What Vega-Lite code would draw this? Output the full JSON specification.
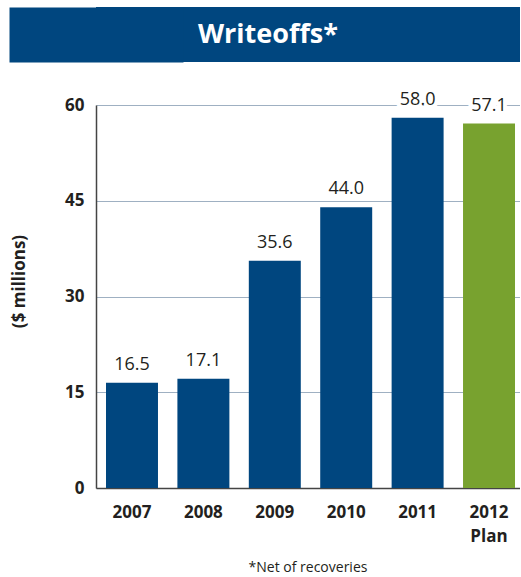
{
  "$schema": "https://vega.github.io/schema/vega-lite/v6.json",
  "padding": {"left": 10, "top": 7, "right": 0, "bottom": 4},
  "background": "white",
  "spacing": 28,
  "config": {
    "font": "Open Sans",
    "view": {"stroke": null}
  },
  "vconcat": [
    {
      "width": 424,
      "height": 55,
      "view": {"fill": "#00467f", "stroke": null},
      "data": {"values": [{"label": "Writeoffs*"}]},
      "mark": {"type": "text", "fontSize": 27, "fontWeight": "bold", "color": "white", "baseline": "middle", "align": "center", "dx": -40},
      "encoding": {
        "text": {"field": "label"},
        "y": {
          "field": "label", "type": "nominal",
          "axis": {"title": null, "labels": false, "ticks": false, "grid": false, "domain": true, "domainColor": "#00467f", "domainWidth": 174, "domainCap": "butt"}
        }
      }
    },
    {
      "width": 424,
      "height": 383,
      "title": {"text": "*Net of recoveries", "orient": "bottom", "fontSize": 14, "fontWeight": "normal", "color": "#231f20", "offset": 17},
      "data": {"values": [
        {"year": "2007", "value": 16.5, "kind": "Actual"},
        {"year": "2008", "value": 17.1, "kind": "Actual"},
        {"year": "2009", "value": 35.6, "kind": "Actual"},
        {"year": "2010", "value": 44.0, "kind": "Actual"},
        {"year": "2011", "value": 58.0, "kind": "Actual"},
        {"year": "2012", "value": 57.1, "kind": "Plan"}
      ]},
      "encoding": {
        "x": {
          "field": "year", "type": "ordinal", "sort": null,
          "scale": {"paddingInner": 0.272, "paddingOuter": 0.105, "align": 0.667},
          "axis": {
            "title": null, "labelAngle": 0, "ticks": false,
            "domainColor": "#444444", "domainWidth": 1.5,
            "labelFontSize": 17, "labelFontWeight": "bold", "labelColor": "#231f20",
            "labelPadding": 16, "labelLineHeight": 24, "labelBaseline": "top",
            "labelExpr": "datum.value == '2012' ? ['2012', 'Plan'] : datum.value"
          }
        },
        "y": {
          "field": "value", "type": "quantitative",
          "scale": {"domain": [0, 60], "nice": false},
          "axis": {
            "values": [0, 15, 30, 45, 60], "ticks": false,
            "grid": true, "gridColor": "#9fb0c2", "gridWidth": 1,
            "domainColor": "#444444", "domainWidth": 1.5,
            "labelFontSize": 17, "labelFontWeight": "bold", "labelColor": "#231f20", "labelPadding": 12,
            "title": "($ millions)", "titleFontSize": 17, "titleFontWeight": "bold", "titleColor": "#231f20",
            "titlePadding": 36, "titleY": 176
          }
        }
      },
      "layer": [
        {
          "mark": {"type": "bar"},
          "encoding": {
            "color": {"field": "kind", "type": "nominal", "scale": {"domain": ["Actual", "Plan"], "range": ["#00467f", "#78a22f"]}, "legend": null}
          }
        },
        {
          "mark": {"type": "text", "baseline": "alphabetic", "dy": -13, "fontSize": 18, "stroke": "white", "strokeWidth": 8, "fill": "white"},
          "encoding": {"text": {"field": "value", "type": "quantitative", "format": ".1f"}}
        },
        {
          "mark": {"type": "text", "baseline": "alphabetic", "dy": -13, "fontSize": 18, "color": "#231f20"},
          "encoding": {"text": {"field": "value", "type": "quantitative", "format": ".1f"}}
        }
      ]
    }
  ]
}
